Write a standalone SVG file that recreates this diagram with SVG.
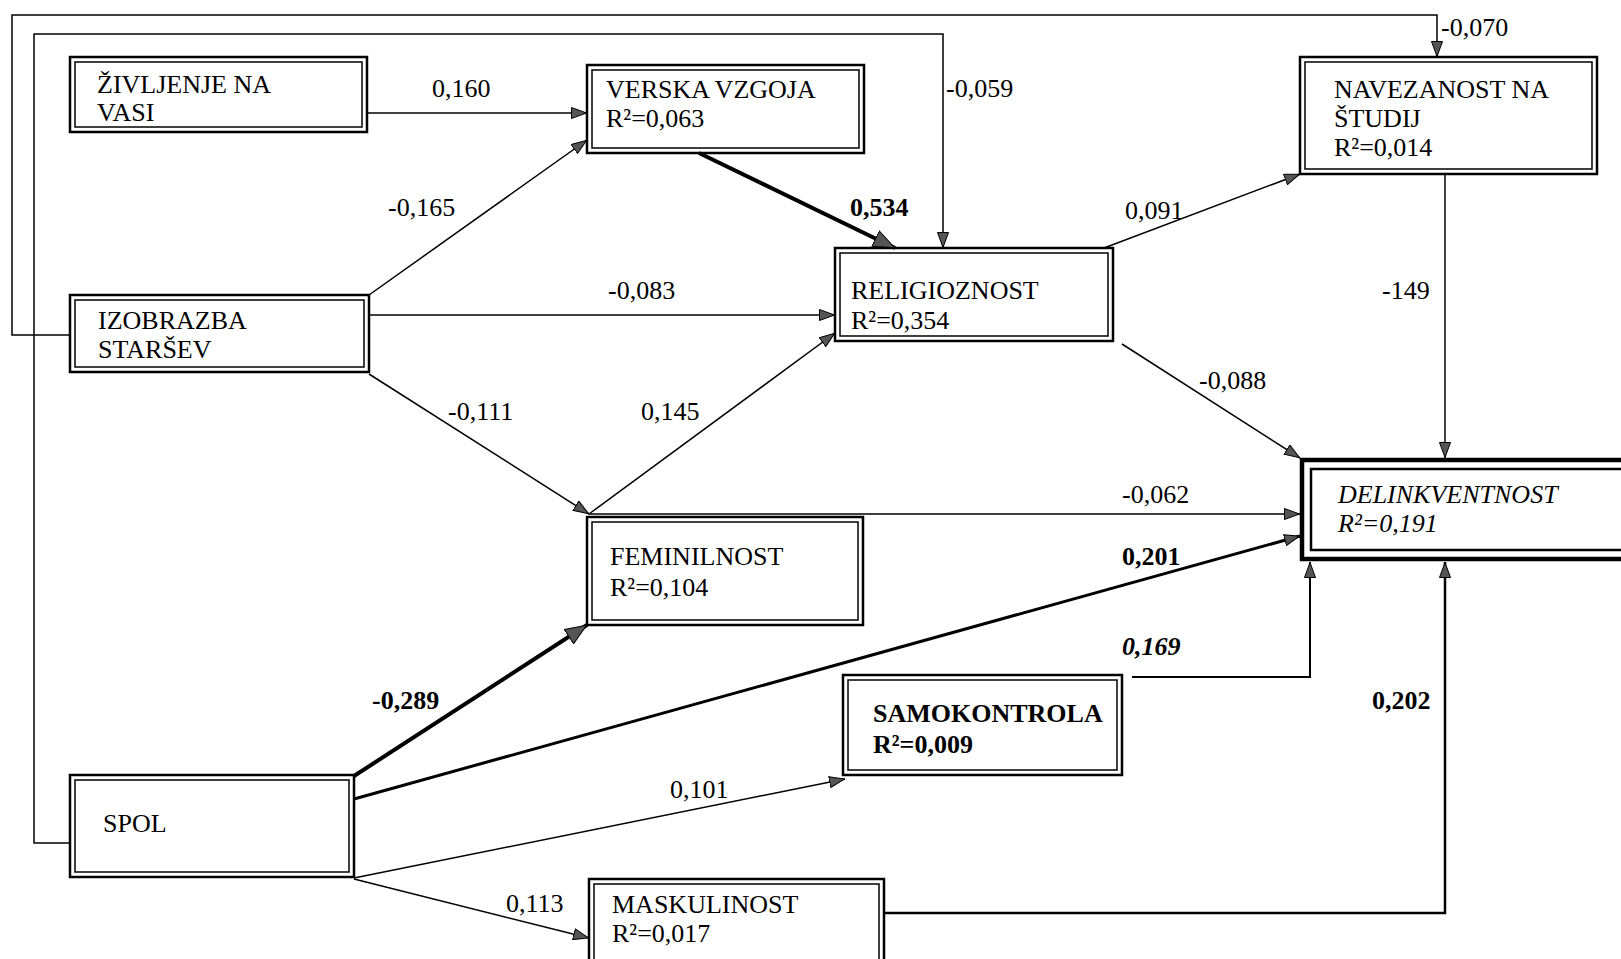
<svg xmlns="http://www.w3.org/2000/svg" width="1621" height="959" viewBox="0 0 1621 959">
<style>
.bo{fill:#fff;stroke:#000;stroke-width:2.5}
.bi{fill:none;stroke:#000;stroke-width:1.5}
.bo2{fill:#fff;stroke:#000;stroke-width:4.5}
.bi2{fill:none;stroke:#000;stroke-width:2.5}
.t{font-family:"Liberation Serif","Times New Roman",serif;font-size:26px;fill:#000}
.b{font-weight:bold}
.i{font-style:italic}
.c{fill:none;stroke:#000;stroke-width:1.5}
.m{marker-end:url(#ah)}
.M{marker-end:url(#ahb)}
</style>
<defs>
<marker id="ah" viewBox="0 0 16 12" refX="16" refY="6" markerWidth="16" markerHeight="12" markerUnits="userSpaceOnUse" orient="auto"><path d="M0.5,0.5 L15.5,6 L0.5,11.5 z" fill="#555" stroke="#000" stroke-width="1"/></marker>
<marker id="ahb" viewBox="0 0 22 18" refX="22" refY="9" markerWidth="22" markerHeight="18" markerUnits="userSpaceOnUse" orient="auto"><path d="M0.5,0.5 L21.5,9 L0.5,17.5 z" fill="#555" stroke="#000" stroke-width="1"/></marker>
</defs>
<rect width="1621" height="959" fill="#fff"/>

<g id="n-zivljenje">
<rect class="bo" x="70" y="57" width="297" height="75"/><rect class="bi" x="75" y="62" width="287" height="65"/>
<text class="t" x="97" y="93">ŽIVLJENJE NA</text><text class="t" x="97" y="121">VASI</text>
</g>
<g id="n-verska">
<rect class="bo" x="587" y="65" width="277" height="88"/><rect class="bi" x="592" y="70" width="267" height="78"/>
<text class="t" x="606" y="98">VERSKA VZGOJA</text><text class="t" x="606" y="127">R²=0,063</text>
</g>
<g id="n-navezanost">
<rect class="bo" x="1300" y="57" width="297" height="117"/><rect class="bi" x="1305" y="62" width="287" height="107"/>
<text class="t" x="1334" y="98">NAVEZANOST NA</text><text class="t" x="1334" y="127">ŠTUDIJ</text><text class="t" x="1334" y="156">R²=0,014</text>
</g>
<g id="n-izobrazba">
<rect class="bo" x="70" y="295" width="299" height="77"/><rect class="bi" x="75" y="300" width="289" height="67"/>
<text class="t" x="98" y="329">IZOBRAZBA</text><text class="t" x="98" y="358">STARŠEV</text>
</g>
<g id="n-religioznost">
<rect class="bo" x="835" y="248" width="278" height="93"/><rect class="bi" x="840" y="253" width="268" height="83"/>
<text class="t" x="851" y="299">RELIGIOZNOST</text><text class="t" x="851" y="329">R²=0,354</text>
</g>
<g id="n-feminilnost">
<rect class="bo" x="587" y="517" width="276" height="108"/><rect class="bi" x="592" y="522" width="266" height="98"/>
<text class="t" x="610" y="565">FEMINILNOST</text><text class="t" x="610" y="596">R²=0,104</text>
</g>
<g id="n-delinkventnost">
<rect class="bo2" x="1302" y="460" width="340" height="99"/><rect class="bi2" x="1311" y="469" width="322" height="81"/>
<text class="t i" x="1338" y="503">DELINKVENTNOST</text><text class="t i" x="1338" y="532">R²=0,191</text>
</g>
<g id="n-samokontrola">
<rect class="bo" x="843" y="675" width="279" height="100"/><rect class="bi" x="848" y="680" width="269" height="90"/>
<text class="t b" x="873" y="722">SAMOKONTROLA</text><text class="t b" x="873" y="753">R²=0,009</text>
</g>
<g id="n-spol">
<rect class="bo" x="70" y="775" width="284" height="102"/><rect class="bi" x="75" y="780" width="274" height="92"/>
<text class="t" x="103" y="832">SPOL</text>
</g>
<g id="n-maskulinost">
<rect class="bo" x="589" y="879" width="295" height="95"/><rect class="bi" x="594" y="884" width="285" height="85"/>
<text class="t" x="612" y="913">MASKULINOST</text><text class="t" x="612" y="942">R²=0,017</text>
</g>

<g id="connectors">
<path class="c m" d="M367,113 L587,113"/>
<path class="c m" d="M369,295 L587,140"/>
<path class="c m" d="M369,315 L835,315"/>
<path class="c m" d="M369,374 L589,514"/>
<path class="c m" d="M589,514 L835,333"/>
<path class="c M" style="stroke-width:4" d="M699,153 L895,248"/>
<path class="c m" d="M70,843 L34,843 L34,34 L943,34 L943,248"/>
<path class="c m" d="M70,335 L12,335 L12,15 L1437,15 L1437,57"/>
<path class="c m" d="M1104,248 L1300,174"/>
<path class="c m" d="M1445,174 L1445,458"/>
<path class="c m" d="M1122,344 L1300,458"/>
<path class="c m" d="M589,514 L1300,514"/>
<path class="c m" style="stroke-width:3" d="M354,799 L1300,536"/>
<path class="c M" style="stroke-width:4" d="M354,776 L587,625"/>
<path class="c m" d="M354,878 L845,779"/>
<path class="c m" d="M354,879 L589,938"/>
<path class="c m" style="stroke-width:2" d="M1132,677 L1310,677 L1310,562"/>
<path class="c m" style="stroke-width:2.5" d="M884,913 L1445,913 L1445,562"/>
</g>

<g id="labels">
<text class="t" x="432" y="97">0,160</text>
<text class="t" x="388" y="216">-0,165</text>
<text class="t" x="608" y="299">-0,083</text>
<text class="t" x="448" y="420">-0,111</text>
<text class="t" x="641" y="420">0,145</text>
<text class="t b" x="850" y="216">0,534</text>
<text class="t" x="946" y="97">-0,059</text>
<text class="t" x="1441" y="36">-0,070</text>
<text class="t" x="1125" y="219">0,091</text>
<text class="t" x="1382" y="299">-149</text>
<text class="t" x="1199" y="389">-0,088</text>
<text class="t" x="1122" y="503">-0,062</text>
<text class="t b" x="1122" y="565">0,201</text>
<text class="t b" x="372" y="709">-0,289</text>
<text class="t" x="670" y="798">0,101</text>
<text class="t" x="506" y="912">0,113</text>
<text class="t b i" x="1122" y="655">0,169</text>
<text class="t b" x="1372" y="709">0,202</text>
</g>
</svg>
